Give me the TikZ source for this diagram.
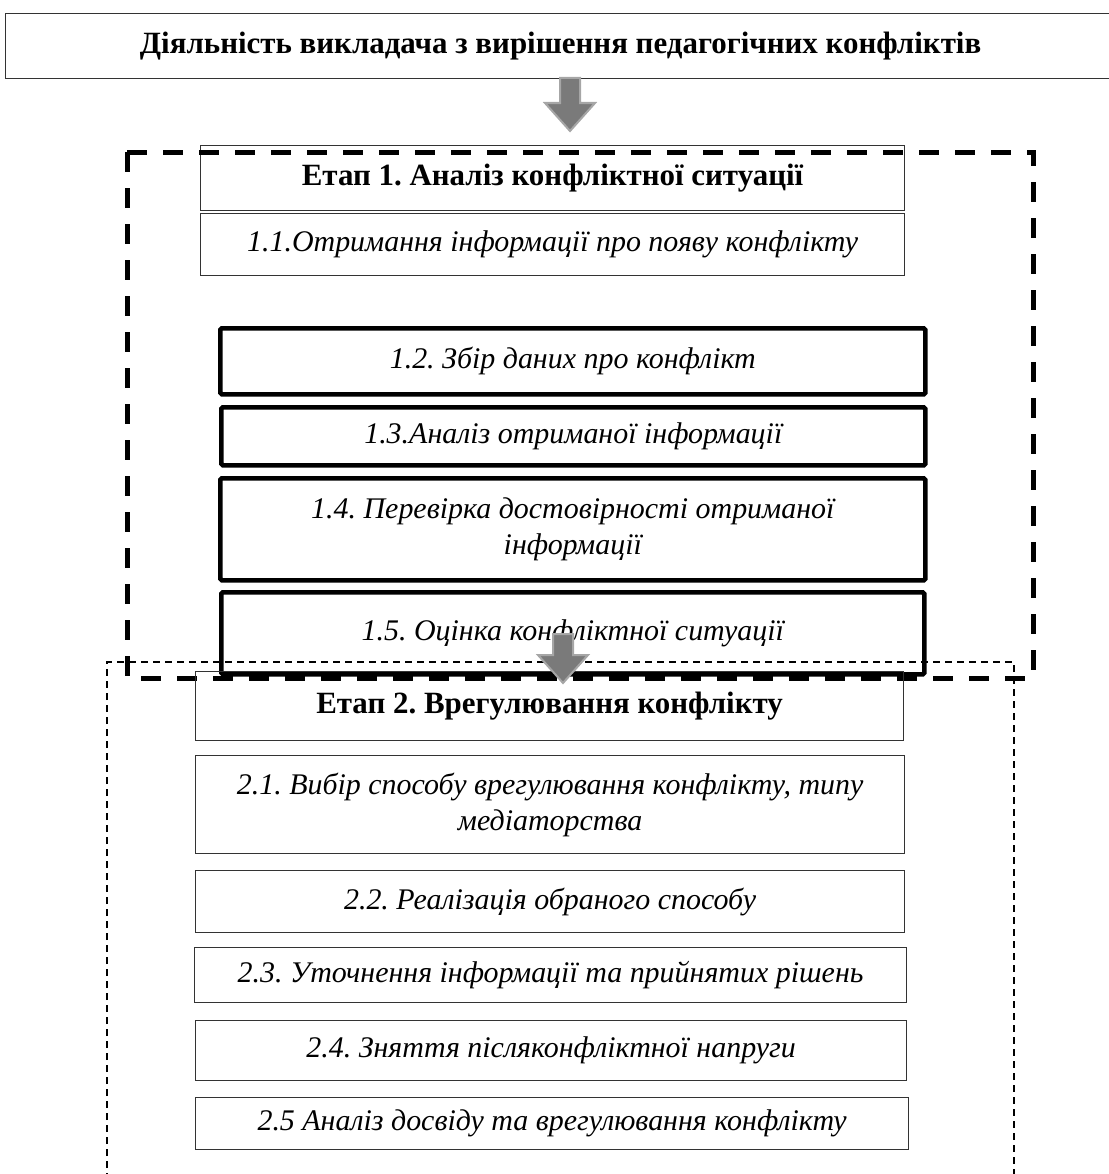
\documentclass[tikz,border=0pt]{standalone}
\usepackage{fontspec}
\setmainfont{Liberation Serif}
\usetikzlibrary{calc}
\def\px{0.25mm}
\tikzset{
  boxtext/.style={align=center, inner sep=0pt, anchor=north west},
  stagebox/.style={boxtext, draw=black!80, line width=0.3mm, font=\fontsize{22}{26}\selectfont\bfseries},
  thinbox/.style={boxtext, draw=black!80, line width=0.3mm, font=\fontsize{21.3}{25.6}\selectfont\itshape},
  thickbox/.style={boxtext, draw=black, line width=1.15mm, rounded corners=0.4mm, font=\fontsize{21.3}{25.6}\selectfont\itshape},
  arrowblock/.style={draw=black!35, fill=black!52, line width=0.5mm},
}
\def\grayarrow(#1,#2,#3){\draw[arrowblock] (#1-10,#2) -- (#1+10,#2) -- (#1+10,#3-28) -- (#1+25,#3-28) -- (#1,#3) -- (#1-25,#3-28) -- (#1-10,#3-28) -- cycle;}

\begin{document}
\frenchspacing
\begin{tikzpicture}[x=0.25mm, y=-0.25mm]
		\useasboundingbox (0,0) rectangle (1108,1174);
		
		% title
		\node[stagebox, minimum width=1110*\px, minimum height=65*\px] (title) at (5,13) {Діяльність викладача з вирішення педагогічних конфліктів};
		
		% stage 1
		\node[stagebox, minimum width=704*\px, minimum height=65*\px] (etap1) at (200,145) {Етап 1. Аналіз конфліктної ситуації};
		\node[thinbox, minimum width=704*\px, minimum height=62*\px] (s11) at (200,213) {1.1.Отримання інформації про появу конфлікту};
		\node[thickbox, minimum width=705*\px, minimum height=66*\px] (s12) at (218,326) {1.2. Збір даних про конфлікт};
		\node[thickbox, minimum width=704*\px, minimum height=58*\px] (s13) at (219,405) {1.3.Аналіз отриманої інформації};
		\node[thickbox, minimum width=705*\px, minimum height=102*\px] (s14) at (218,476) {1.4. Перевірка достовірності отриманої\\інформації};
		\node[thickbox, minimum width=703*\px, minimum height=82*\px] (s15) at (219,590) {1.5. Оцінка конфліктної ситуації};
		
		\draw[line width=1.25mm, dash pattern=on 5mm off 4mm] (127,152) rectangle (1033,678);
		
		% stage 2
		\node[stagebox, minimum width=708*\px, minimum height=69*\px] (etap2) at (195,671) {Етап 2. Врегулювання конфлікту};
		\node[thinbox, minimum width=709*\px, minimum height=98*\px] (s21) at (195,755) {2.1. Вибір способу врегулювання конфлікту, типу\\медіаторства};
		\node[thinbox, minimum width=709*\px, minimum height=62*\px] (s22) at (195,870) {2.2. Реалізація обраного способу};
		\node[thinbox, minimum width=712*\px, minimum height=55*\px] (s23) at (194,947) {2.3. Уточнення інформації та прийнятих рішень};
		\node[thinbox, minimum width=711*\px, minimum height=60*\px] (s24) at (195,1020) {2.4. Зняття післяконфліктної напруги};
		\node[thinbox, minimum width=713*\px, minimum height=52*\px] (s25) at (195,1097) {2.5 Аналіз досвіду та врегулювання конфлікту};
		
		\draw[line width=0.35mm, dash pattern=on 1.75mm off 1.25mm] (107,1180) -- (107,662) -- (1014,662) -- (1014,1180);
		
		% arrows
		\grayarrow(570,78,131)
		\grayarrow(563,634,683)
		
\end{tikzpicture}
\end{document}
